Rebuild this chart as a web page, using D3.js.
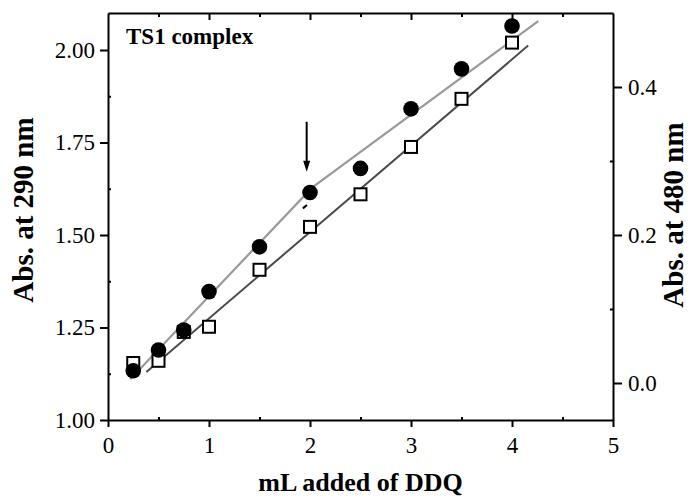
<!DOCTYPE html>
<html>
<head>
<meta charset="utf-8">
<script src="https://cdn.jsdelivr.net/npm/d3@7"></script>
<style>
  body { margin: 0; background: #fff; }
  svg { display: block; }
  .asse path, .asse line { stroke: #000; stroke-width: 2; }
  .titolo { font-family: "Liberation Serif", "Times New Roman", serif; font-weight: bold; fill: #000; }
</style>
</head>
<body>
<script>
"use strict"
/* dati */
const mlDDQ = [0.25, 0.5, 0.75, 1, 1.5, 2, 2.5, 3, 3.5, 4];
const abs290 = [1.133, 1.189, 1.243, 1.347, 1.468, 1.615, 1.680, 1.841, 1.949, 2.065]; /* cerchi, asse sinistro */
const abs480 = [0.027, 0.030, 0.069, 0.076, 0.153, 0.211, 0.255, 0.319, 0.384, 0.460]; /* quadrati, asse destro */
/* rette di fit */
const fit290X = [0.22, 2.02, 4.26];
const fit290Y = [1.110, 1.628, 2.078];
const fit480X = [0.38, 4.16];
const fit480Y = [0.015, 0.456];
/* freccia sul punto di rottura */
const freccia = { x: 1.967, da: 1.806, a: 1.671 };
const trattino = { x: [1.93, 1.97], y: [1.572, 1.581] };
/* tacche */
const tackX = [0, 1, 2, 3, 4, 5];
const tackXMin = [0.5, 1.5, 2.5, 3.5, 4.5];
const tackSx = [1.00, 1.25, 1.50, 1.75, 2.00];
const tackSxMin = [1.125, 1.375, 1.625, 1.875];
const tackDx = [0.0, 0.2, 0.4];
const tackDxMin = [0.1, 0.3];

const grafico = { larghezza: 696, altezza: 499, sx: 108, dx: 613, su: 13, giu: 420 };

const svg = d3.select("body").append("svg")
    .attr("width", grafico.larghezza)
    .attr("height", grafico.altezza);

const scalaX = d3.scaleLinear().domain([0, 5]).range([grafico.sx, grafico.dx]);
const scalaSx = d3.scaleLinear().domain([1.0, 2.1]).range([grafico.giu, grafico.su]);
const scalaDx = d3.scaleLinear().domain([-0.05, 0.5]).range([grafico.giu, grafico.su]);

/* linee di fit */
const lineaSx = d3.line().x(function (d) { return scalaX(d[0]) }).y(function (d) { return scalaSx(d[1]) });
const lineaDx = d3.line().x(function (d) { return scalaX(d[0]) }).y(function (d) { return scalaDx(d[1]) });
svg.append("path")
    .attr("d", lineaDx(d3.zip(fit480X, fit480Y)))
    .attr("fill", "none").attr("stroke", "#4a4a4a").attr("stroke-width", 2);
svg.append("path")
    .attr("d", lineaSx(d3.zip(fit290X, fit290Y)))
    .attr("fill", "none").attr("stroke", "#9a9a9a").attr("stroke-width", 2.2);

/* quadrati (480 nm) */
svg.selectAll("rect.q")
    .data(d3.zip(mlDDQ, abs480))
    .enter().append("rect")
    .attr("class", "q")
    .attr("x", function (d) { return scalaX(d[0]) - 6 })
    .attr("y", function (d) { return scalaDx(d[1]) - 6 })
    .attr("width", 12).attr("height", 12)
    .attr("fill", "#fff").attr("stroke", "#000").attr("stroke-width", 2);

/* cerchi (290 nm) */
svg.selectAll("circle")
    .data(d3.zip(mlDDQ, abs290))
    .enter().append("circle")
    .attr("cx", function (d) { return scalaX(d[0]) })
    .attr("cy", function (d) { return scalaSx(d[1]) })
    .attr("r", 7.8)
    .attr("fill", "#000");

/* freccia */
const xf = scalaX(freccia.x);
svg.append("line")
    .attr("x1", xf).attr("x2", xf)
    .attr("y1", scalaSx(freccia.da)).attr("y2", scalaSx(freccia.a) - 8)
    .attr("stroke", "#000").attr("stroke-width", 2);
svg.append("path")
    .attr("d", `M${xf - 3.5},${scalaSx(freccia.a) - 11} L${xf + 3.5},${scalaSx(freccia.a) - 11} L${xf},${scalaSx(freccia.a)} Z`)
    .attr("fill", "#000");
svg.append("line")
    .attr("x1", scalaX(trattino.x[0])).attr("x2", scalaX(trattino.x[1]))
    .attr("y1", scalaSx(trattino.y[0])).attr("y2", scalaSx(trattino.y[1]))
    .attr("stroke", "#000").attr("stroke-width", 2);

/* assi: font serif sui numeri */
function pulisci(g) {
    g.attr("font-family", "Liberation Serif").attr("font-size", 23);
    g.selectAll("text")
        .attr("font-family", "'Liberation Serif', 'Times New Roman', serif")
        .attr("font-size", "23px")
        .attr("fill", "#000");
}
function soloTacche(g) { g.select(".domain").remove() }

svg.append("g").attr("class", "asse")
    .attr("transform", `translate(0,${grafico.giu})`)
    .call(d3.axisBottom(scalaX).tickValues(tackX).tickFormat(d3.format("d")).tickSize(7).tickSizeOuter(0).tickPadding(10))
    .call(pulisci);
svg.append("g").attr("class", "asse")
    .attr("transform", `translate(0,${grafico.giu})`)
    .call(d3.axisBottom(scalaX).tickValues(tackXMin).tickFormat("").tickSize(-3).tickSizeOuter(0))
    .call(soloTacche);

svg.append("g").attr("class", "asse")
    .attr("transform", `translate(0,${grafico.su})`)
    .call(d3.axisTop(scalaX).tickValues(tackX.slice(1, 5)).tickFormat("").tickSize(-7).tickSizeOuter(0));
svg.append("g").attr("class", "asse")
    .attr("transform", `translate(0,${grafico.su})`)
    .call(d3.axisTop(scalaX).tickValues(tackXMin).tickFormat("").tickSize(-4).tickSizeOuter(0))
    .call(soloTacche);

svg.append("g").attr("class", "asse")
    .attr("transform", `translate(${grafico.sx},0)`)
    .call(d3.axisLeft(scalaSx).tickValues(tackSx).tickFormat(d3.format(".2f")).tickSize(8).tickSizeOuter(0).tickPadding(5))
    .call(pulisci);
svg.append("g").attr("class", "asse")
    .attr("transform", `translate(${grafico.sx},0)`)
    .call(d3.axisLeft(scalaSx).tickValues(tackSxMin).tickFormat("").tickSize(-3).tickSizeOuter(0))
    .call(soloTacche);

svg.append("g").attr("class", "asse")
    .attr("transform", `translate(${grafico.dx},0)`)
    .call(d3.axisRight(scalaDx).tickValues(tackDx).tickFormat(d3.format(".1f")).tickSize(9).tickSizeOuter(0).tickPadding(6))
    .call(pulisci);
svg.append("g").attr("class", "asse")
    .attr("transform", `translate(${grafico.dx},0)`)
    .call(d3.axisRight(scalaDx).tickValues(tackDxMin).tickFormat("").tickSize(-3).tickSizeOuter(0))
    .call(soloTacche);

/* titoli */
svg.append("text").attr("class", "titolo")
    .attr("x", 126).attr("y", 44)
    .attr("font-size", "23px")
    .text("TS1 complex");
svg.append("text").attr("class", "titolo")
    .attr("x", (grafico.sx + grafico.dx) / 2).attr("y", 491)
    .attr("text-anchor", "middle")
    .attr("font-size", "26px")
    .text("mL added of DDQ");
svg.append("text").attr("class", "titolo")
    .attr("transform", "translate(33,210) rotate(-90)")
    .attr("text-anchor", "middle")
    .attr("font-size", "29px")
    .text("Abs. at 290 nm");
svg.append("text").attr("class", "titolo")
    .attr("transform", "translate(683,215) rotate(-90)")
    .attr("text-anchor", "middle")
    .attr("font-size", "29px")
    .text("Abs. at 480 nm");
</script>
</body>
</html>
